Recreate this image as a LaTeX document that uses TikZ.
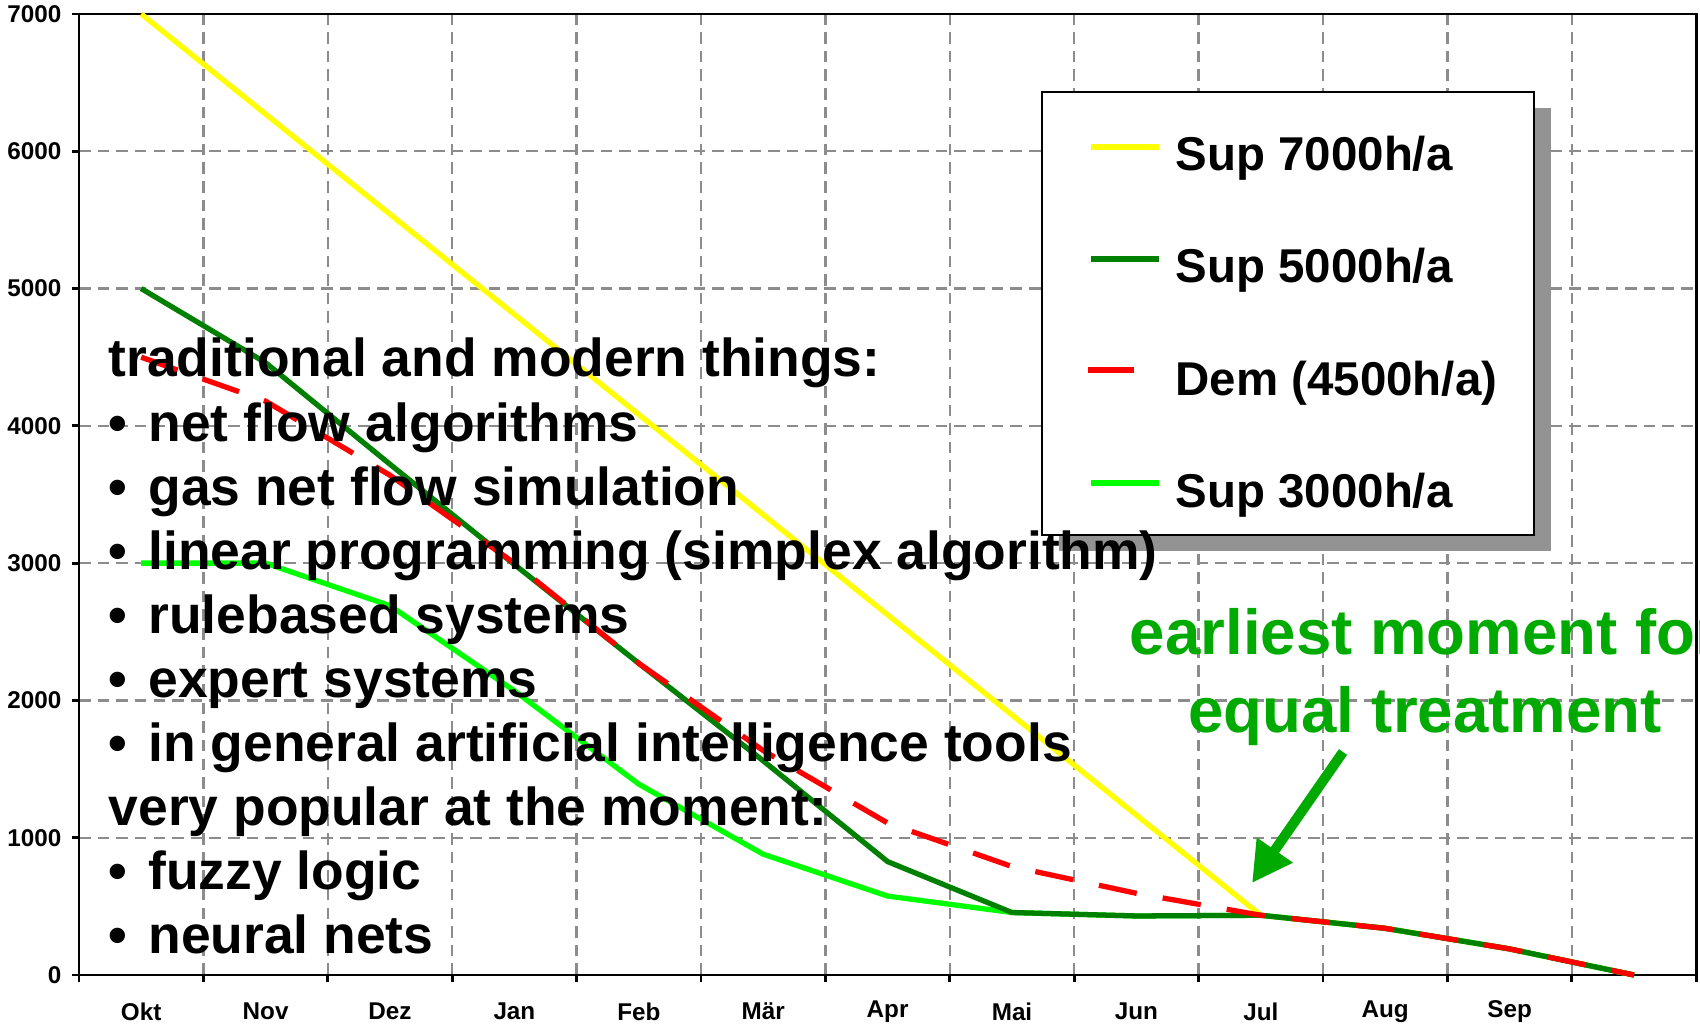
\documentclass[tikz,border=0pt]{standalone}
\usepackage{fontspec}
\setmainfont{Liberation Sans}
\usetikzlibrary{arrows.meta,calc}
\definecolor{supyellow}{HTML}{FFFF00}
\definecolor{supdark}{HTML}{008000}
\definecolor{suplight}{HTML}{00FF00}
\definecolor{demred}{HTML}{FF0000}
\definecolor{gridgray}{HTML}{8C8C8C}
\definecolor{shadowgray}{HTML}{939393}
\definecolor{notegreen}{HTML}{00AA00}
\newcommand\dotitem{•\hspace{6pt}}
\tikzset{
	% ------- chart
	grid line/.style={
		gridgray, line width=0.65pt,
		dash pattern=on 3.3pt off 2pt,
	},
	axis line/.style={
		black, line width=0.8pt,
	},
	tick mark/.style={
		black, line width=0.8pt,
	},
	curve/.style={
		line width=1.5pt, line join=round,
	},
	sup7000/.style={curve, supyellow},
	sup5000/.style={curve, supdark},
	sup3000/.style={curve, suplight},
	dem4500/.style={curve, demred, dash pattern=on 11pt off 7.5pt},
	tick label/.style={
		font=\fontsize{6.9}{8}\selectfont\bfseries, inner sep=0pt,
	},
	% ------- legend
	legend box/.style={
		draw=black, fill=white, line width=0.8pt,
	},
	legend shadow/.style={
		fill=shadowgray,
	},
	legend label/.style={
		font=\fontsize{13.5}{16}\selectfont\bfseries, inner sep=0pt, anchor=base west,
	},
	% ------- texts
	list text/.style={
		font=\fontsize{15.2}{18}\selectfont\bfseries, inner sep=0pt, anchor=base west,
	},
	note text/.style={
		font=\fontsize{18.1}{22}\selectfont\bfseries, notegreen, inner sep=0pt, anchor=base,
	},
	note arrow/.style={
		notegreen, line width=2.85pt,
		-{Triangle[length=11.4pt,width=11.7pt]},
	},
}

\begin{document}
\begin{tikzpicture}

% canvas %{{{1

	\useasboundingbox (0,0) rectangle (17,10.24);

% chart %{{{1

\begin{scope}[shift={(0.79,0.49)}, x=1.244cm, y=0.0013757cm]

	% grid
	\foreach \v in {1000,2000,...,6000}
		\draw[grid line] (0,\v) -- (13,\v);
	\foreach \m in {1,...,12}
		\draw[grid line] (\m,0) -- (\m,7000);

	% frame and ticks
	\draw[axis line] (0,0) rectangle (13,7000);
	\foreach \v in {0,1000,...,7000}{
		\draw[tick mark] (0,\v) -- ++(-0.07cm,0);
		\node[tick label, anchor=east, xshift=-0.17cm] (ylab\v) at (0,\v) {\v};
	}
	\foreach \m in {0,...,13}
		\draw[tick mark] (\m,0) -- ++(0,-0.07cm);
	\foreach \mname [count=\k] in {Okt,Nov,Dez,Jan,Feb,Mär,Apr,Mai,Jun,Jul,Aug,Sep}
		\node[tick label, yshift=-0.365cm] (mlab\k) at (\k-0.5,0) {\mname};

	% curves
	\draw[sup7000] (0.5,7000) -- (9.5,435) -- (10.5,340) -- (11.5,190) -- (12.5,0);
	\draw[sup3000] plot coordinates {(0.5,3000) (1.5,3000) (2.5,2690) (3.5,2070)
		(4.5,1390) (5.5,880) (6.5,575) (7.5,455) (8.5,430) (9.5,435) (10.5,340)
		(11.5,190) (12.5,0)};
	\draw[sup5000] plot coordinates {(0.5,5000) (1.5,4460) (2.5,3720) (3.5,2990)
		(4.5,2270) (5.5,1560) (6.5,826) (7.5,455) (8.5,430) (9.5,435) (10.5,340)
		(11.5,190) (12.5,0)};
	\draw[dem4500] plot coordinates {(0.5,4500) (1.5,4180) (2.5,3640) (3.5,3000)
		(4.5,2270) (5.5,1635) (6.5,1107) (7.5,790) (8.5,595) (9.5,435) (10.5,340)
		(11.5,190) (12.5,0)};

\end{scope}

% legend %{{{1

	\fill[legend shadow] (10.59,4.73) rectangle (15.51,9.16);
	\draw[legend box] (10.42,4.89) rectangle (15.34,9.32);

	\draw[sup7000] (10.91,8.77) -- (11.59,8.77);
	\node[legend label] (leg7000) at (11.75,8.53) {Sup 7000h/a};
	\draw[sup5000] (10.91,7.65) -- (11.59,7.65);
	\node[legend label] (leg5000) at (11.75,7.41) {Sup 5000h/a};
	\draw[curve, demred] (10.88,6.54) -- (11.34,6.54);
	\node[legend label] (legdem) at (11.75,6.29) {Dem (4500h/a)};
	\draw[sup3000] (10.91,5.41) -- (11.59,5.41);
	\node[legend label] (leg3000) at (11.75,5.17) {Sup 3000h/a};

% list of methods %{{{1

	\foreach \txt [count=\k] in {traditional and modern things:,
		\dotitem net flow algorithms,
		\dotitem gas net flow simulation,
		\dotitem linear programming (simplex algorithm),
		\dotitem rulebased systems,
		\dotitem expert systems,
		\dotitem in general artificial intelligence tools,
		very popular at the moment:,
		\dotitem fuzzy logic,
		\dotitem neural nets}
		\node[list text] (item\k) at (1.08,{6.47-0.64*(\k-1)}) {\txt};

% note and arrow %{{{1

	\node[note text] (note1) at (14.25,3.70) {earliest moment for};
	\node[note text] (note2) at (14.25,2.92) {equal treatment};

	\coordinate (note tail) at (13.43,2.72);
	\coordinate (note tip) at (12.52,1.41);
	\draw[note arrow] (note tail) -- (note tip);

% closing %{{{1

\end{tikzpicture}
\end{document}
